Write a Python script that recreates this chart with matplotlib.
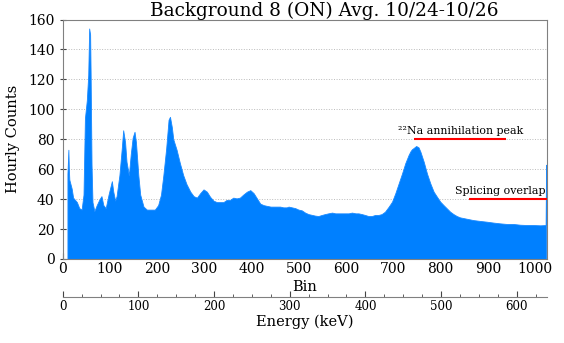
import matplotlib
matplotlib.use('Agg')
import matplotlib.pyplot as plt
from matplotlib.ticker import MultipleLocator

plt.rcParams['font.family'] = ['DejaVu Serif']
plt.rcParams['mathtext.fontset'] = 'dejavuserif'

# spectrum (channel, hourly counts)
channel = [10, 12, 13, 14, 19, 22, 30, 35, 40, 44, 47, 51, 54, 56, 58, 59, 61, 63,
           67, 72, 78, 82, 86, 91, 97, 104, 107, 111, 114, 120, 125, 128, 132, 135,
           140, 144, 148, 152, 155, 160, 164, 171, 178, 185, 195, 202, 208, 213, 219,
           224, 227, 231, 234, 241, 248, 255, 262, 270, 277, 284, 291, 298, 305, 312,
           319, 326, 340, 347, 354, 361, 368, 375, 382, 390, 397, 404, 411, 418, 425,
           432, 440, 450, 460, 467, 474, 478, 485, 492, 499, 506, 513, 520, 527, 534,
           541, 548, 555, 562, 570, 577, 590, 605, 612, 620, 626, 633, 640, 647, 654,
           661, 668, 675, 682, 690, 697, 704, 711, 718, 725, 732, 736, 739, 742, 748,
           753, 757, 764, 771, 778, 785, 792, 799, 806, 813, 820, 827, 834, 841, 855,
           869, 884, 898, 912, 926, 940, 954, 968, 982, 996, 1011, 1022, 1023]
counts = [57, 73, 60, 53, 47, 41, 38, 34, 33, 43, 94, 106, 123, 154, 150, 125, 63, 38,
          32, 36, 40, 42, 36, 34, 43, 52, 45, 39, 42, 56, 74, 86, 78, 65,
          56, 70, 81, 85, 78, 56, 43, 35, 33, 33, 33, 36, 43, 56, 74,
          93, 95, 88, 80, 73, 64, 56, 50, 45, 42, 41, 44, 46.5, 45, 41.5,
          39, 38, 38, 39.5, 39.5, 41, 40.5, 41, 43, 45, 46, 44, 40.5, 37, 36,
          35.5, 35, 35, 35, 34.5, 34.5, 35, 34.5, 34, 33, 32.5, 31, 30, 29.5, 29,
          28.7, 29.4, 30, 30.5, 31, 30.5, 30.5, 30.5, 31, 30.5, 30.5, 30, 29.4, 28.7, 28.7,
          29.4, 29.4, 30, 31.6, 35, 38.3, 44, 50.5, 57, 64, 69.5, 72, 73.3, 74, 75.5,
          74.6, 71.7, 65, 57, 50.5, 45, 41.6, 38.3, 36, 33.8, 31.6, 30, 28.7, 27.8, 26.9,
          26, 25.4, 24.9, 24.3, 23.8, 23.4, 23.4, 22.9, 22.7, 22.7, 22.5, 22.7, 63]

title = 'Background 8 (ON) Avg. 10/24-10/26'
peak_label = '²²Na annihilation peak'
splice_label = 'Splicing overlap'
peak_line = (744, 939, 80)
splice_line = (859, 1025, 40)

fig = plt.figure(figsize=(5.64, 3.43), dpi=100)
ax = fig.add_axes([0.1112, 0.2449, 0.8587, 0.6982])

ax.fill_between(channel, counts, 0, color='#0080ff', lw=0.6, edgecolor='#1a8aff')
ax.set_xlim(0, 1025)
ax.set_ylim(0, 160)
ax.xaxis.set_major_locator(MultipleLocator(100))
ax.xaxis.set_minor_locator(MultipleLocator(50))
ax.yaxis.set_major_locator(MultipleLocator(20))
ax.grid(axis='y', ls=':', color='#bbbbbb', lw=0.7)
ax.set_axisbelow(True)
for s in ax.spines.values():
    s.set_color('#808080')
ax.tick_params(axis='x', which='both', direction='in', color='#444444', labelsize=10, pad=2)
ax.tick_params(axis='x', which='major', length=4)
ax.tick_params(axis='x', which='minor', length=2)
ax.tick_params(axis='y', direction='inout', length=5, color='#444444', labelsize=10)
ax.set_xlabel('Bin', fontsize=10.5, labelpad=3)
ax.set_ylabel('Hourly Counts', fontsize=10.5, labelpad=6)
ax.text(0.54, 1.015, title, transform=ax.transAxes, ha='center', va='baseline', fontsize=13.3)

ax.hlines(peak_line[2], peak_line[0], peak_line[1], color='red', lw=1.5)
ax.hlines(splice_line[2], splice_line[0], splice_line[1], color='red', lw=1.5)
ax.text(843, 82, peak_label, ha='center', va='bottom', fontsize=7.9)
ax.text(925, 42, splice_label, ha='center', va='bottom', fontsize=7.9)

# energy scale below the bin axis
ex = fig.add_axes([0.1112, 0.1332, 0.8587, 0.0001])
ex.set_xlim(0, 640)
ex.set_yticks([])
for side in ['left', 'right', 'top']:
    ex.spines[side].set_visible(False)
ex.spines['bottom'].set_color('#808080')
ex.xaxis.set_major_locator(MultipleLocator(100))
ex.xaxis.set_minor_locator(MultipleLocator(25))
ex.tick_params(axis='x', which='both', direction='in', color='#444444', labelsize=8.5, pad=2)
ex.tick_params(axis='x', which='major', length=4)
ex.tick_params(axis='x', which='minor', length=2)
ex.set_xlabel('Energy (keV)', fontsize=10.5, labelpad=1)

fig.savefig('out.png', dpi=100)
